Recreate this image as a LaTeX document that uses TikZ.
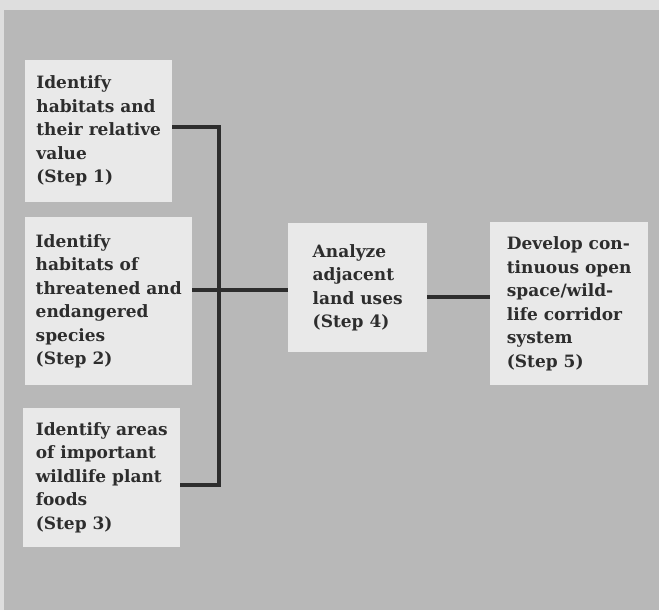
\documentclass[tikz,border=0pt]{standalone}
\usepackage{fontspec}
\setmainfont{DejaVu Serif}
\definecolor{bggray}{RGB}{184,184,184}
\definecolor{edgegray}{RGB}{222,222,222}
\definecolor{boxfill}{RGB}{233,233,233}
\definecolor{ink}{RGB}{45,45,45}
\begin{document}
\begin{tikzpicture}[x=1pt,y=-1pt,
  stepbox/.style={fill=boxfill, draw=none, anchor=north west, inner sep=0pt,
    align=left, text=ink, font=\fontsize{17}{23.5}\selectfont\bfseries},
  link/.style={draw=ink, line width=4.5pt, line join=miter}]
\fill[edgegray] (0,0) rectangle (659,610);
\fill[bggray] (4,10) rectangle (659,610);
\useasboundingbox (0,0) rectangle (659,610);
\node[stepbox, minimum width=147pt, minimum height=142pt] (b1) at (25,60)
  {Identify\\habitats and\\their relative\\value\\(Step 1)};
\node[stepbox, minimum width=167pt, minimum height=168pt] (b2) at (25,217)
  {Identify\\habitats of\\threatened and\\endangered\\species\\(Step 2)};
\node[stepbox, minimum width=157pt, minimum height=139pt] (b3) at (23,408)
  {Identify areas\\of important\\wildlife plant\\foods\\(Step 3)};
\node[stepbox, minimum width=139pt, minimum height=129pt] (b4) at (288,223)
  {Analyze\\adjacent\\land uses\\(Step 4)};
\node[stepbox, minimum width=158pt, minimum height=163pt] (b5) at (490,222)
  {Develop con-\\tinuous open\\space/wild-\\life corridor\\system\\(Step 5)};
\coordinate (j1) at (219,127);
\coordinate (j3) at (219,485);
\coordinate (j2) at (219,290);
\coordinate (j4) at (460,297);
\draw[link] (b1.east |- j1) -- (j1) -- (j3) -- (b3.east |- j3);
\draw[link] (b2.east |- j2) -- (b4.west |- j2);
\draw[link] (b4.east |- j4) -- (b5.west |- j4);
\end{tikzpicture}
\end{document}
